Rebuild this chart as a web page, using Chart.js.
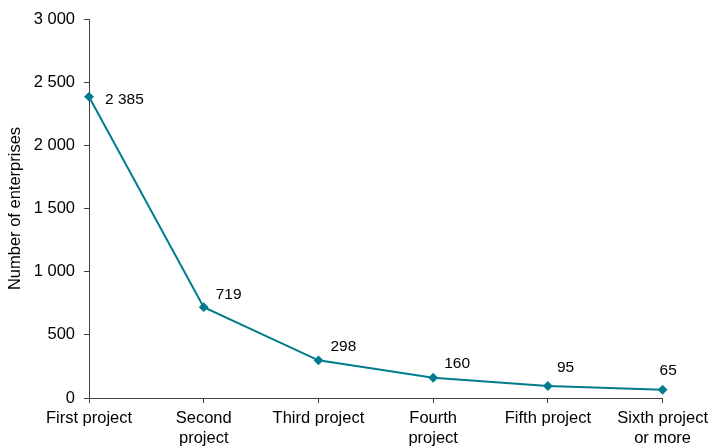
<!DOCTYPE html>
<html>
<head>
<meta charset="utf-8">
<script src="https://cdn.jsdelivr.net/npm/chart.js@4/dist/chart.umd.min.js"></script>
<style>
  html, body { margin: 0; padding: 0; background: #ffffff; }
  #wrap { width: 714px; height: 448px; position: relative; }
</style>
</head>
<body>
<div id="wrap"><canvas id="chart" width="714" height="448"></canvas></div>
<script>
// Enterprises by number of projects
const categories = [
  'First project',
  ['Second', 'project'],
  'Third project',
  ['Fourth', 'project'],
  'Fifth project',
  ['Sixth project', 'or more']
];
const enterprises = [2385, 719, 298, 160, 95, 65];
const yTicks = [0, 500, 1000, 1500, 2000, 2500, 3000];

const LINE = '#007d8c';
const AXIS = '#404040';
const FONT = "'Liberation Sans', Arial, sans-serif";

// Space as thousands separator: 2385 -> "2 385"
function fmt(v) {
  return String(v).replace(/\B(?=(\d{3})+(?!\d))/g, ' ');
}

// Value labels drawn beside each point
const valueLabels = {
  id: 'valueLabels',
  afterDatasetsDraw(chart, args, opts) {
    const ctx = chart.ctx;
    const meta = chart.getDatasetMeta(0);
    ctx.save();
    ctx.font = opts.size + 'px ' + FONT;
    ctx.fillStyle = '#000';
    ctx.textAlign = 'left';
    ctx.textBaseline = 'middle';
    meta.data.forEach((pt, i) => {
      const off = opts.offsets[i];
      ctx.fillText(fmt(chart.data.datasets[0].data[i]), pt.x + off[0], pt.y + off[1]);
    });
    ctx.restore();
  }
};

new Chart(document.getElementById('chart'), {
  type: 'line',
  data: {
    labels: categories,
    datasets: [{
      data: enterprises,
      borderColor: LINE,
      backgroundColor: LINE,
      borderWidth: 2,
      tension: 0,
      pointStyle: 'rectRot',
      pointRadius: 3.5,
      pointHoverRadius: 3.5,
      fill: false
    }]
  },
  options: {
    responsive: false,
    animation: false,
    layout: { padding: { top: 19, right: 50, bottom: 0, left: 0 } },
    plugins: {
      legend: { display: false },
      tooltip: { enabled: false },
      valueLabels: {
        size: 15.5,
        offsets: [[16, 3], [12, -12], [12, -14], [11, -14], [9, -18], [-3, -19]]
      }
    },
    scales: {
      x: {
        offset: false,
        grid: {
          display: true,
          drawOnChartArea: false,
          drawTicks: true,
          tickLength: 5,
          color: AXIS
        },
        border: { display: true, color: AXIS, width: 1 },
        ticks: {
          color: '#000',
          font: { family: FONT, size: 16.5 },
          maxRotation: 0,
          autoSkip: false,
          padding: 6
        },
        afterFit(scale) { scale.height = 50; }
      },
      y: {
        min: 0,
        max: 3000,
        afterBuildTicks(scale) { scale.ticks = yTicks.map(v => ({ value: v })); },
        grid: {
          display: true,
          drawOnChartArea: false,
          drawTicks: true,
          tickLength: 5,
          color: AXIS
        },
        border: { display: true, color: AXIS, width: 1 },
        ticks: {
          color: '#000',
          font: { family: FONT, size: 16.5 },
          padding: 9,
          callback: v => fmt(v)
        },
        title: {
          display: true,
          text: 'Number of enterprises',
          color: '#000',
          font: { family: FONT, size: 16.5 },
          padding: { top: 6, bottom: 0 }
        },
        afterFit(scale) { scale.width = 89; }
      }
    }
  },
  plugins: [valueLabels]
});
</script>
</body>
</html>
